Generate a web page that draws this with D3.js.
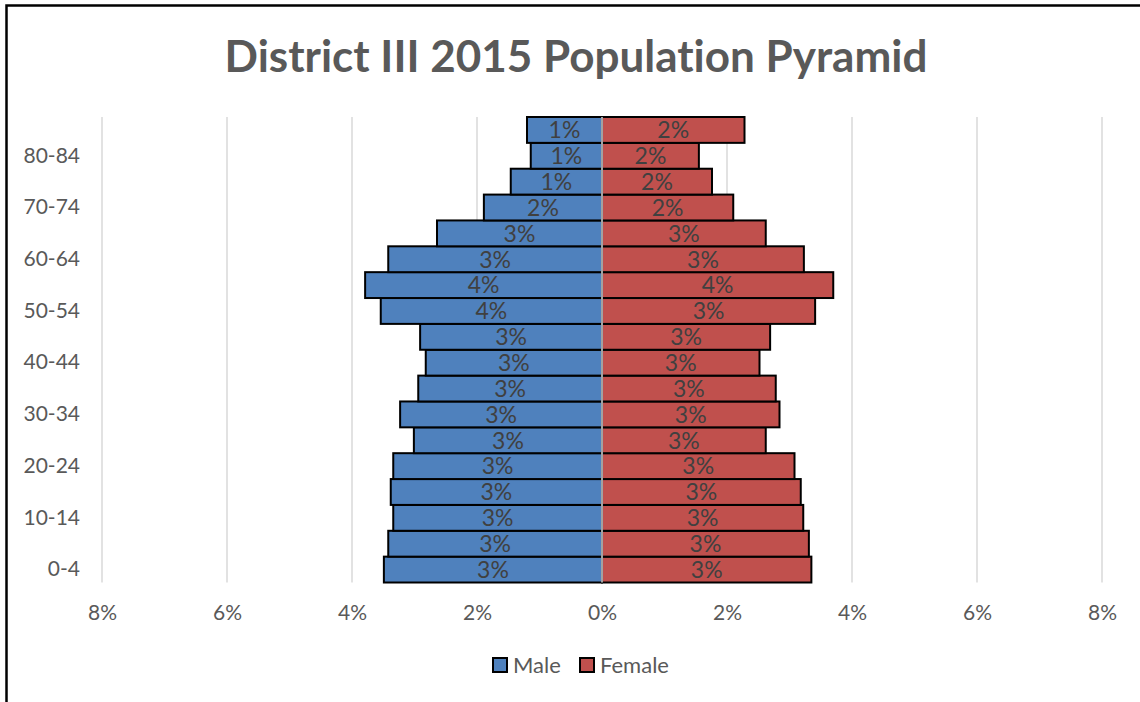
<!DOCTYPE html>
<html>
<head>
<meta charset="utf-8">
<script src="https://cdn.jsdelivr.net/npm/d3@7"></script>
<style>
  html, body { margin: 0; padding: 0; background: #fff; }
  svg { display: block; }
  text { font-family: Lato, "Open Sans", sans-serif; font-variant-ligatures: none; }
</style>
</head>
<body>
<svg id="chart" width="1140" height="702"></svg>
<script>
// Age groups, youngest first
const ageGroups = ["0-4", "5-9", "10-14", "15-19", "20-24", "25-29", "30-34", "35-39",
  "40-44", "45-49", "50-54", "55-59", "60-64", "65-69", "70-74", "75-79", "80-84", "85+"];
// Share of total population (%)
const maleShare = [3.49, 3.42, 3.34, 3.38, 3.34, 3.01, 3.23, 2.94,
  2.82, 2.91, 3.54, 3.79, 3.42, 2.64, 1.89, 1.46, 1.14, 1.20];
const femaleShare = [3.35, 3.31, 3.22, 3.18, 3.08, 2.62, 2.84, 2.78,
  2.52, 2.69, 3.41, 3.70, 3.23, 2.62, 2.10, 1.76, 1.55, 2.28];
const xTicks = [-8, -6, -4, -2, 0, 2, 4, 6, 8];
const seriesNames = ["Male", "Female"];

const svg = d3.select("#chart");
const colors = { Male: "#4F81BD", Female: "#C0504D" };

// chart frame
svg.append("rect")
  .attr("x", 6.5).attr("y", 5.5)
  .attr("width", 1200).attr("height", 800)
  .attr("fill", "none").attr("stroke", "#000").attr("stroke-width", 2.5);

// title
svg.append("text")
  .attr("x", 576).attr("y", 72)
  .attr("text-anchor", "middle")
  .attr("font-size", 44).attr("font-weight", 700)
  .attr("fill", "#595959")
  .text("District III 2015 Population Pyramid");

const x = d3.scaleLinear().domain([-8, 8]).range([102, 1102]);
const y = d3.scaleBand().domain(ageGroups.slice().reverse()).range([117, 582.5]).padding(0);

// vertical gridlines
svg.append("g")
  .selectAll("line")
  .data(xTicks)
  .join("line")
  .attr("x1", d => x(d)).attr("x2", d => x(d))
  .attr("y1", 117).attr("y2", 582.5)
  .attr("stroke", "#d9d9d9").attr("stroke-width", 1.5);

const rows = ageGroups.map((g, i) => ({ group: g, male: maleShare[i], female: femaleShare[i] }));
const pct = d3.format(".0%");

// male bars (left)
svg.append("g")
  .selectAll("rect")
  .data(rows)
  .join("rect")
  .attr("x", d => x(-d.male))
  .attr("y", d => y(d.group))
  .attr("width", d => x(0) - x(-d.male))
  .attr("height", y.bandwidth())
  .attr("fill", colors.Male)
  .attr("stroke", "#000").attr("stroke-width", 2);

// female bars (right)
svg.append("g")
  .selectAll("rect")
  .data(rows)
  .join("rect")
  .attr("x", x(0))
  .attr("y", d => y(d.group))
  .attr("width", d => x(d.female) - x(0))
  .attr("height", y.bandwidth())
  .attr("fill", colors.Female)
  .attr("stroke", "#000").attr("stroke-width", 2);

// centre axis line
svg.append("line")
  .attr("x1", x(0)).attr("x2", x(0))
  .attr("y1", 117).attr("y2", 582.5)
  .attr("stroke", "#d9d9d9").attr("stroke-width", 1.5);

// data labels
const labelG = svg.append("g")
  .attr("font-size", 23).attr("fill", "#404040").attr("text-anchor", "middle");
labelG.selectAll("text.m")
  .data(rows)
  .join("text")
  .attr("class", "m")
  .attr("x", d => (x(-d.male) + x(0)) / 2)
  .attr("y", d => y(d.group) + y.bandwidth() / 2)
  .attr("dy", "0.36em")
  .text(d => pct(d.male / 100));
labelG.selectAll("text.f")
  .data(rows)
  .join("text")
  .attr("class", "f")
  .attr("x", d => (x(d.female) + x(0)) / 2)
  .attr("y", d => y(d.group) + y.bandwidth() / 2)
  .attr("dy", "0.36em")
  .text(d => pct(d.female / 100));

// category axis (every other group labelled)
const yAxis = d3.axisLeft(y)
  .tickValues(ageGroups.filter((g, i) => i % 2 === 0 && i < 17))
  .tickSize(0).tickPadding(0);
const yg = svg.append("g").attr("transform", "translate(80,0)").call(yAxis);
yg.select(".domain").remove();
yg.selectAll("text").attr("font-size", 21).attr("fill", "#595959")
  .attr("font-family", "Lato, 'Open Sans', sans-serif");

// value axis
const xAxis = d3.axisBottom(x)
  .tickValues(xTicks)
  .tickSize(0).tickPadding(0)
  .tickFormat(d => Math.abs(d) + "%");
const xg = svg.append("g").attr("transform", "translate(0,605)").call(xAxis);
xg.select(".domain").remove();
xg.selectAll("text").attr("font-size", 21).attr("fill", "#595959")
  .attr("font-family", "Lato, 'Open Sans', sans-serif");

// legend
const legend = svg.append("g");
const legendPos = [{ name: seriesNames[0], sx: 493, tx: 513 }, { name: seriesNames[1], sx: 580, tx: 600 }];
legend.selectAll("rect")
  .data(legendPos)
  .join("rect")
  .attr("x", d => d.sx).attr("y", 658)
  .attr("width", 14).attr("height", 14)
  .attr("fill", d => colors[d.name])
  .attr("stroke", "#000").attr("stroke-width", 2);
legend.selectAll("text")
  .data(legendPos)
  .join("text")
  .attr("x", d => d.tx).attr("y", 665)
  .attr("dy", "0.36em")
  .attr("font-size", 22).attr("fill", "#595959")
  .text(d => d.name);
</script>
</body>
</html>
